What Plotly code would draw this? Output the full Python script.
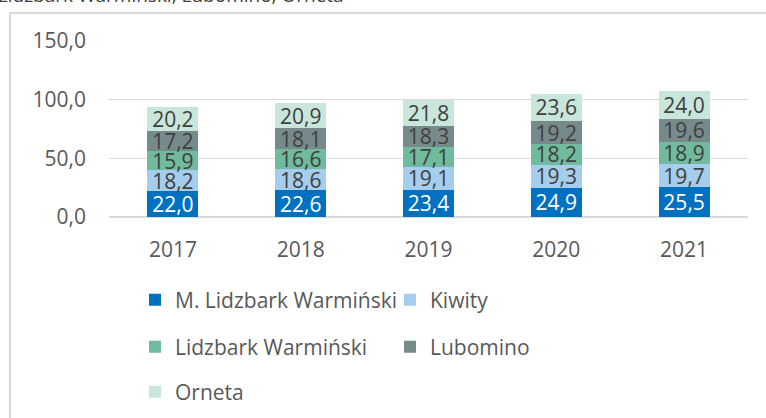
import plotly.graph_objects as go

years = ["2017", "2018", "2019", "2020", "2021"]
series_names = ["M. Lidzbark Warmiński", "Kiwity", "Lidzbark Warmiński", "Lubomino", "Orneta"]
m_lidzbark = [22.0, 22.6, 23.4, 24.9, 25.5]
kiwity = [18.2, 18.6, 19.1, 19.3, 19.7]
lidzbark = [15.9, 16.6, 17.1, 18.2, 18.9]
lubomino = [17.2, 18.1, 18.3, 19.2, 19.6]
orneta = [20.2, 20.9, 21.8, 23.6, 24.0]
y_ticks = [0, 50, 100, 150]

colors = ["#0070C0", "#A5CDEE", "#70BB9E", "#778A8B", "#C8E6DA"]
text_colors = ["#FFFFFF", "#404040", "#404040", "#404040", "#404040"]
values = [m_lidzbark, kiwity, lidzbark, lubomino, orneta]

FONT = "Open Sans"
FS = 21
W, H = 766, 418
L, R, T, B = 109, 18, 41, 201
pw, ph = W - L - R, H - T - B

def px_x(p):
    return (p - L) / pw

def px_y(p):
    return (H - B - p) / ph

fig = go.Figure()
legend_ids = ["legend", "legend2", "legend3", "legend4", "legend5"]
for i, (name, vals) in enumerate(zip(series_names, values)):
    fig.add_trace(go.Bar(
        x=years, y=vals, name=name,
        marker=dict(color=colors[i], line=dict(width=0)),
        texttemplate="%{y:.1f}",
        textposition="inside",
        insidetextanchor="middle",
        constraintext="none",
        textfont=dict(family=FONT, size=FS, color=text_colors[i]),
        legend=legend_ids[i],
        hoverinfo="skip",
    ))

# legend left edges / row centers in pixels
leg_pos = [(135, 300), (390, 300), (135, 347), (390, 347), (135, 392)]
layout_legends = {}
for lid, (lx, ly) in zip(legend_ids, leg_pos):
    layout_legends[lid] = dict(
        x=lx / W, y=1 - ly / H, xanchor="left", yanchor="middle",
        xref="container", yref="container",
        font=dict(family=FONT, size=FS, color="#595959"),
        bgcolor="rgba(0,0,0,0)", borderwidth=0,
        orientation="h",
    )

fig.update_layout(
    width=W, height=H,
    margin=dict(l=L, r=R, t=T, b=B, autoexpand=False),
    barmode="stack",
    bargap=0.6,
    separators=", ",
    plot_bgcolor="white",
    paper_bgcolor="white",
    font=dict(family=FONT, size=FS, color="#595959"),
    showlegend=True,
    **layout_legends,
    xaxis=dict(
        showgrid=False, showline=False, zeroline=False,
        tickfont=dict(family=FONT, size=FS, color="#595959"),
        ticks="", ticklabelstandoff=18, automargin=False,
    ),
    yaxis=dict(
        range=[0, 150], tickvals=y_ticks, tickformat=".1f",
        showgrid=True, gridcolor="#D9D9D9", gridwidth=1.5,
        zeroline=True, zerolinecolor="#D9D9D9", zerolinewidth=1.5,
        showline=False, ticks="",
        tickfont=dict(family=FONT, size=FS, color="#595959"),
        ticklabelstandoff=22, automargin=False,
    ),
    shapes=[dict(
        type="rect", xref="paper", yref="paper",
        x0=px_x(10), x1=px_x(900), y0=px_y(700), y1=px_y(13),
        line=dict(color="#D9D9D9", width=2), fillcolor="rgba(0,0,0,0)",
        layer="below",
    )],
    annotations=[dict(
        text="M. Lidzbark Warmiński, Kiwity, Lidzbark Warmiński, Lubomino, Orneta",
        xref="paper", yref="paper", x=px_x(346), y=px_y(10),
        xanchor="right", yanchor="bottom", showarrow=False,
        font=dict(family=FONT, size=19, color="#404040"),
    )],
)

fig.write_html(
    "out.html",
    config={"displayModeBar": False, "staticPlot": True},
    post_script="document.body.style.margin='0';document.body.style.overflow='hidden';",
)
